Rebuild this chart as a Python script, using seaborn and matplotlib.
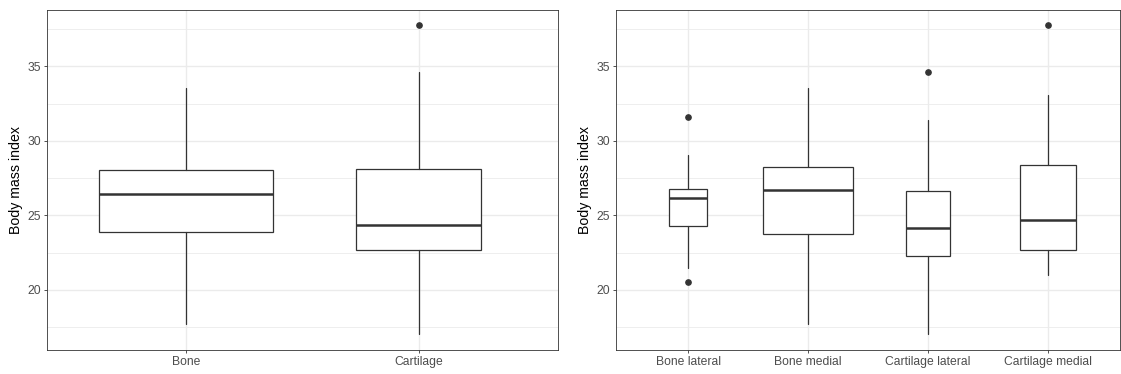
import matplotlib
matplotlib.use("Agg")
import matplotlib.pyplot as plt
import seaborn as sns
import numpy as np

# ---- data ----
left_groups = ["Bone", "Cartilage"]
left_whislo = [17.71, 17.05]
left_q1 = [23.90, 22.67]
left_med = [26.41, 24.37]
left_q3 = [28.04, 28.08]
left_whishi = [33.55, 34.58]
left_fliers = [[], [37.74]]

right_groups = ["Bone lateral", "Bone medial", "Cartilage lateral", "Cartilage medial"]
right_whislo = [21.50, 17.71, 17.05, 21.00]
right_q1 = [24.30, 23.76, 22.25, 22.65]
right_med = [26.19, 26.72, 24.14, 24.67]
right_q3 = [26.79, 28.21, 26.61, 28.37]
right_whishi = [29.04, 33.55, 31.37, 33.08]
right_fliers = [[20.51, 31.57], [], [34.60], [37.74]]

y_label = "Body mass index"

# ---- style ----
sns.set_theme(style="white")
plt.rcParams["font.family"] = ["Liberation Sans", "DejaVu Sans"]

fig = plt.figure(figsize=(11.21, 3.74), dpi=100)
ax1 = fig.add_axes([47 / 1121, 24 / 374, 511 / 1121, 340 / 374])
ax2 = fig.add_axes([616 / 1121, 24 / 374, 504 / 1121, 340 / 374])

line_col = "#333333"
grid_col = "#EBEBEB"


def draw(ax, groups, wlo, q1, med, q3, whi, fliers, widths):
    stats = []
    for i, g in enumerate(groups):
        stats.append(dict(label=g, whislo=wlo[i], q1=q1[i], med=med[i],
                          q3=q3[i], whishi=whi[i], fliers=np.array(fliers[i])))
    pos = np.arange(len(groups))
    ax.bxp(stats, positions=pos, widths=widths, showcaps=False,
           patch_artist=True,
           boxprops=dict(facecolor="white", edgecolor=line_col, linewidth=0.9),
           whiskerprops=dict(color=line_col, linewidth=0.9),
           medianprops=dict(color=line_col, linewidth=1.8),
           flierprops=dict(marker="o", markerfacecolor=line_col,
                           markeredgecolor=line_col, markersize=3.8),
           zorder=3)
    ax.set_xlim(-0.6, len(groups) - 0.4)
    ax.set_ylim(15.97, 38.77)
    ax.set_yticks([20, 25, 30, 35])
    ax.set_yticks([17.5, 22.5, 27.5, 32.5, 37.5], minor=True)
    ax.set_xticks(pos)
    ax.set_xticklabels(groups)
    ax.set_facecolor("white")
    ax.grid(True, which="major", color=grid_col, linewidth=1.0, zorder=0)
    ax.grid(True, which="minor", axis="y", color=grid_col, linewidth=0.6, zorder=0)
    ax.set_axisbelow(True)
    for s in ax.spines.values():
        s.set_visible(True)
        s.set_color(line_col)
        s.set_linewidth(0.6)
    ax.tick_params(axis="both", which="major", length=2.5, width=0.6,
                   color=line_col, labelcolor="#4D4D4D", labelsize=8.7, pad=2,
                   bottom=True, left=True)
    ax.tick_params(axis="both", which="minor", length=0, left=False, bottom=False)
    ax.set_ylabel(y_label, fontsize=10.2, color="black", labelpad=3)
    ax.set_xlabel("")


draw(ax1, left_groups, left_whislo, left_q1, left_med, left_q3, left_whishi,
     left_fliers, [0.75, 0.54])
draw(ax2, right_groups, right_whislo, right_q1, right_med, right_q3, right_whishi,
     right_fliers, [0.31, 0.75, 0.36, 0.47])

fig.savefig("out.png", dpi=100)
